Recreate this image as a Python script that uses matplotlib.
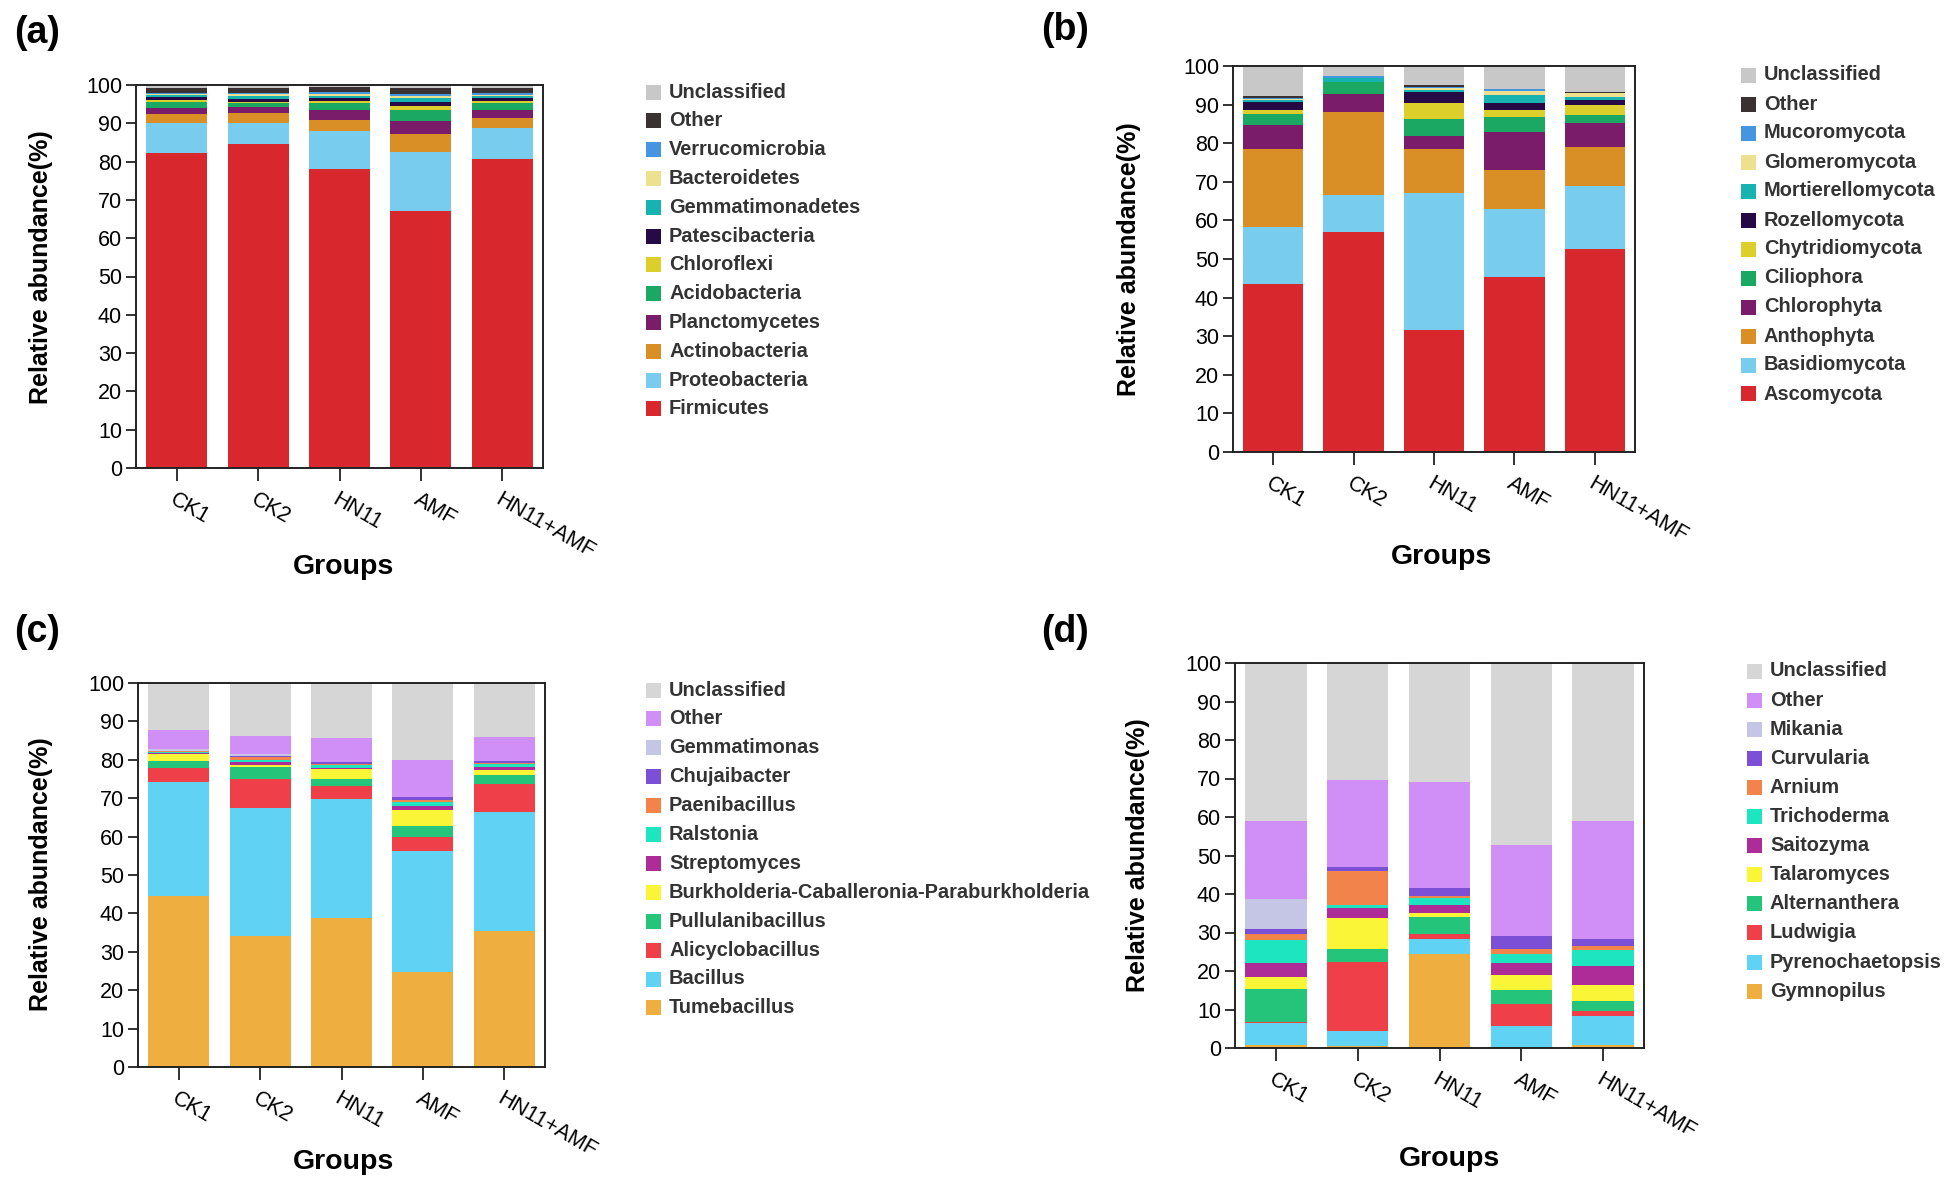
import matplotlib
matplotlib.use("Agg")
import matplotlib.pyplot as plt
from matplotlib.patches import Rectangle
import numpy as np

plt.rcParams["font.family"] = ["Liberation Sans", "DejaVu Sans"]

W, H = 1957, 1189

groups = ["CK1", "CK2", "HN11", "AMF", "HN11+AMF"]

# ---- (a) bacteria, phylum (bottom -> top) ----
a_taxa = ["Firmicutes", "Proteobacteria", "Actinobacteria", "Planctomycetes",
          "Acidobacteria", "Chloroflexi", "Patescibacteria", "Gemmatimonadetes",
          "Bacteroidetes", "Verrucomicrobia", "Other", "Unclassified"]
a_values = [
    [82.3, 84.5, 78.0, 67.1, 80.6],
    [7.7, 5.7, 10.0, 15.5, 8.1],
    [2.4, 2.4, 2.9, 4.6, 2.6],
    [1.7, 1.6, 2.5, 3.5, 2.3],
    [1.5, 1.0, 1.8, 2.8, 1.6],
    [0.5, 0.4, 0.5, 1.0, 0.6],
    [0.8, 0.7, 0.9, 1.1, 0.7],
    [0.4, 0.9, 0.6, 0.9, 0.5],
    [0.3, 0.4, 0.5, 0.5, 0.4],
    [0.3, 0.3, 0.4, 0.6, 0.5],
    [1.4, 1.4, 1.4, 1.5, 1.2],
    [0.7, 0.7, 0.5, 0.9, 0.9],
]

# ---- (b) fungi, phylum ----
b_taxa = ["Ascomycota", "Basidiomycota", "Anthophyta", "Chlorophyta",
          "Ciliophora", "Chytridiomycota", "Rozellomycota", "Mortierellomycota",
          "Glomeromycota", "Mucoromycota", "Other", "Unclassified"]
b_values = [
    [43.4, 57.0, 31.5, 45.3, 52.6],
    [15.0, 9.5, 35.5, 17.6, 16.3],
    [20.1, 21.5, 11.5, 10.1, 10.2],
    [6.1, 4.7, 3.3, 10.0, 6.2],
    [3.0, 3.2, 4.5, 3.7, 2.0],
    [1.1, 0.0, 4.2, 2.0, 2.6],
    [2.1, 0.0, 2.8, 1.6, 1.3],
    [0.4, 0.9, 0.6, 2.1, 0.8],
    [0.3, 0.2, 0.4, 1.0, 0.9],
    [0.2, 0.4, 0.3, 0.6, 0.2],
    [0.5, 0.1, 0.5, 0.1, 0.2],
    [7.8, 2.5, 4.9, 5.9, 6.7],
]

# ---- (c) bacteria, genus ----
c_taxa = ["Tumebacillus", "Bacillus", "Alicyclobacillus", "Pullulanibacillus",
          "Burkholderia-Caballeronia-Paraburkholderia", "Streptomyces",
          "Ralstonia", "Paenibacillus", "Chujaibacter", "Gemmatimonas",
          "Other", "Unclassified"]
c_values = [
    [44.5, 34.2, 38.8, 24.8, 35.3],
    [29.8, 33.2, 30.9, 31.5, 31.1],
    [3.5, 7.5, 3.6, 3.7, 7.3],
    [1.8, 3.3, 1.8, 2.8, 2.3],
    [1.9, 0.4, 2.4, 4.0, 1.3],
    [0.3, 0.8, 0.4, 1.2, 0.8],
    [0.2, 0.6, 0.8, 1.0, 0.9],
    [0.2, 0.6, 0.3, 0.6, 0.2],
    [0.2, 0.4, 0.5, 0.6, 0.6],
    [0.3, 0.4, 0.0, 0.1, 0.0],
    [5.1, 4.9, 6.3, 9.6, 6.1],
    [12.2, 13.7, 14.2, 20.1, 14.1],
]

# ---- (d) fungi, genus ----
d_taxa = ["Gymnopilus", "Pyrenochaetopsis", "Ludwigia", "Alternanthera",
          "Talaromyces", "Saitozyma", "Trichoderma", "Arnium", "Curvularia",
          "Mikania", "Other", "Unclassified"]
d_values = [
    [0.9, 0.4, 24.5, 0.0, 0.8],
    [5.5, 4.1, 3.9, 5.7, 7.6],
    [0.3, 17.8, 1.2, 5.8, 1.1],
    [8.5, 3.4, 4.3, 3.6, 2.8],
    [3.2, 8.1, 1.1, 3.8, 4.0],
    [3.7, 2.5, 2.1, 3.2, 4.9],
    [5.9, 0.8, 1.9, 2.2, 4.2],
    [1.6, 9.0, 0.6, 1.3, 1.2],
    [1.4, 0.8, 1.9, 3.6, 1.8],
    [7.6, 0.0, 0.0, 0.0, 0.0],
    [20.3, 22.7, 27.6, 23.6, 30.6],
    [41.1, 30.4, 30.9, 47.2, 41.0],
]

# colours (bottom -> top)
phylum_colors = ["#d9272e", "#78cdee", "#d98f25", "#7b1c6a", "#1aa862", "#dccf2c",
                 "#250a45", "#17b3b0", "#ede08e", "#4595e0", "#3a3232", "#c8c8c8"]
genus_colors = ["#efae40", "#60d3f5", "#ef3f48", "#24c47a", "#faf537", "#ad2c98",
                "#1de5c0", "#f1834b", "#7b50d6", "#c5c5e6", "#cf8ff7", "#d6d6d6"]

# layout, in pixels of the 1957x1189 picture
panels = [
    dict(tag="(a)", taxa=a_taxa, vals=a_values, cols=phylum_colors,
         box=(136, 85, 543, 468), leg=(646, 92, 28.8), lab=(37, 33),
         ylab=(41, 267), glab=(343, 567)),
    dict(tag="(b)", taxa=b_taxa, vals=b_values, cols=phylum_colors,
         box=(1233, 66, 1635, 452), leg=(1741, 75, 29.0), lab=(1065, 30),
         ylab=(1129, 259), glab=(1441, 557)),
    dict(tag="(c)", taxa=c_taxa, vals=c_values, cols=genus_colors,
         box=(138, 683, 545, 1067), leg=(646, 690, 28.9), lab=(37, 632),
         ylab=(41, 874), glab=(343, 1162)),
    dict(tag="(d)", taxa=d_taxa, vals=d_values, cols=genus_colors,
         box=(1235, 663, 1644, 1048), leg=(1747, 671, 29.1), lab=(1065, 632),
         ylab=(1138, 855), glab=(1450, 1159)),
]


def fx(x):
    return x / W


def fy(y):
    return 1 - y / H


fig = plt.figure(figsize=(W / 100, H / 100), dpi=100)

for p in panels:
    l, t, r, b = p["box"]
    ax = fig.add_axes([fx(l), fy(b), (r - l) / W, (b - t) / H])
    x = np.arange(len(groups))
    bottom = np.zeros(len(groups))
    for name, v, c in zip(p["taxa"], p["vals"], p["cols"]):
        v = np.array(v)
        ax.bar(x, v, width=0.75, bottom=bottom, color=c, linewidth=0)
        bottom += v

    ax.set_xlim(-0.5, len(groups) - 0.5)
    ax.set_ylim(0, 100)
    ax.set_yticks(range(0, 101, 10))
    ax.set_xticks(x)
    ax.set_xticklabels(groups, rotation=-30, ha="left", va="top",
                       rotation_mode="anchor", fontsize=15.5)
    ax.tick_params(axis="y", labelsize=15.5, length=7, width=1.3, pad=3, color="#222222")
    ax.tick_params(axis="x", length=9, width=1.3, pad=6, color="#222222")
    for s in ax.spines.values():
        s.set_linewidth(1.4)
        s.set_color("#222222")

    fig.text(fx(p["ylab"][0]), fy(p["ylab"][1]), "Relative abundance(%)",
             rotation=90, ha="center", va="center", fontsize=18, fontweight="bold")
    fig.text(fx(p["glab"][0]), fy(p["glab"][1]), "Groups",
             ha="center", va="center", fontsize=20.5, fontweight="bold")
    fig.text(fx(p["lab"][0]), fy(p["lab"][1]), p["tag"],
             ha="center", va="center", fontsize=27, fontweight="bold")

    # legend, top row = last stacked layer
    lx, ly, dy = p["leg"]
    sq = 15
    for i, (name, c) in enumerate(zip(p["taxa"][::-1], p["cols"][::-1])):
        yc = ly + i * dy
        fig.add_artist(Rectangle((fx(lx), fy(yc + sq / 2)), sq / W, sq / H,
                                 transform=fig.transFigure, color=c, lw=0))
        fig.text(fx(lx + 23), fy(yc), name, ha="left", va="center",
                 fontsize=14.4, fontweight="bold", color="#333333")

fig.savefig("out.png", dpi=100)
